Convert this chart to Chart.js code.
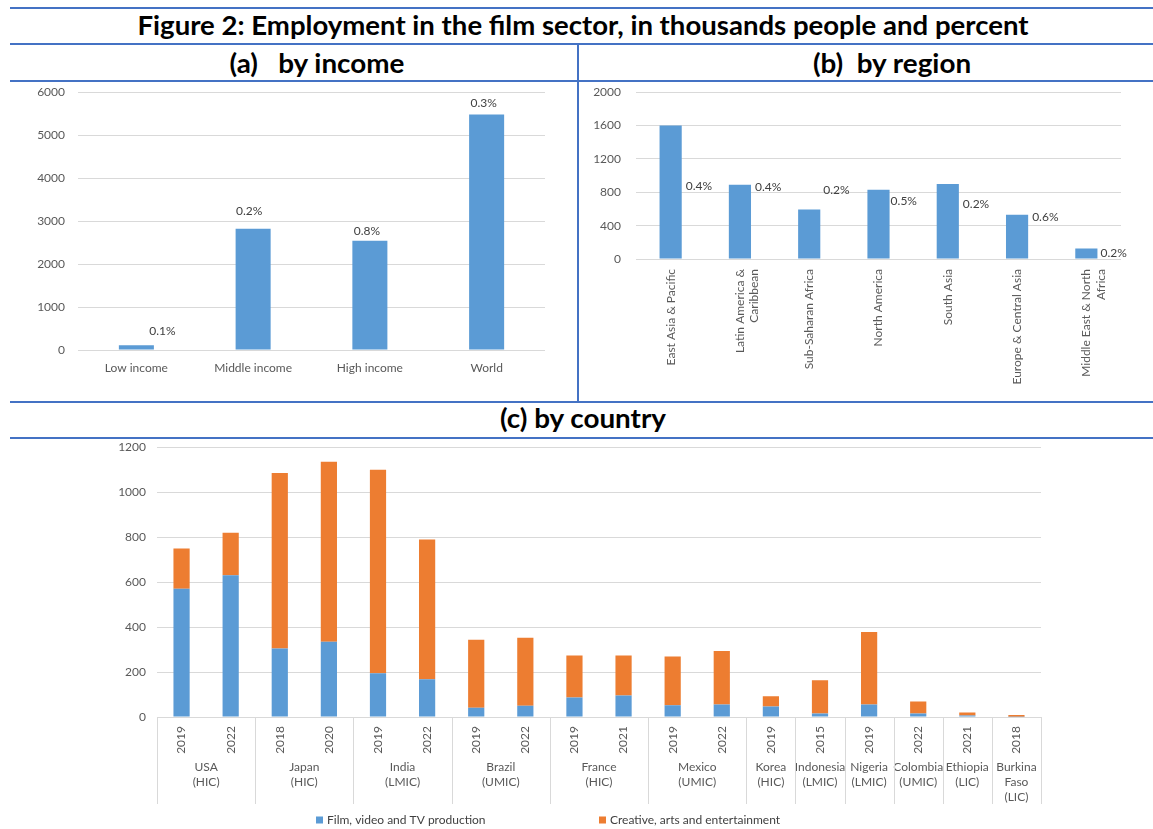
<!DOCTYPE html>
<html><head><meta charset="utf-8">
<script src="https://cdn.jsdelivr.net/npm/chart.js@4.4.1/dist/chart.umd.min.js"></script>
<style>
html,body{margin:0;padding:0;background:#fff;}
body{width:1153px;height:829px;position:relative;overflow:hidden;font-family:Lato,"Open Sans",sans-serif;}
.hl{position:absolute;height:2px;background:#4472C4;}
.vl{position:absolute;width:2px;background:#4472C4;}
.t{position:absolute;font-weight:bold;color:#000;white-space:nowrap;line-height:1;font-size:26px;transform:translateX(-50%) scaleX(1.07);}
.cv{position:absolute;}
</style></head><body>
<div class="hl" style="left:10px;top:7px;width:1143px"></div>
<div class="hl" style="left:10px;top:43px;width:1143px"></div>
<div class="hl" style="left:10px;top:80px;width:1143px"></div>
<div class="hl" style="left:10px;top:401px;width:1143px"></div>
<div class="hl" style="left:10px;top:437px;width:1143px"></div>
<div class="vl" style="left:577px;top:44px;height:358px"></div>
<div class="t" style="left:583px;top:12px;transform:translateX(-50%) scaleX(1.06)">Figure 2: Employment in the film sector, in thousands people and percent</div>
<div class="t" style="left:317px;top:50px">(a)&nbsp;&nbsp; by income</div>
<div class="t" style="left:892px;top:50px">(b)&nbsp; by region</div>
<div class="t" style="left:583px;top:405px">(c) by country</div>

<div class="cv" style="left:10px;top:72px;width:567px;height:329px"><canvas id="cA"></canvas></div>
<div class="cv" style="left:580px;top:70px;width:573px;height:331px"><canvas id="cB"></canvas></div>
<div class="cv" style="left:0px;top:429px;width:1153px;height:400px"><canvas id="cC"></canvas></div>

<script>
// ---------- Data ----------
const incomeCategories = ['Low income', 'Middle income', 'High income', 'World'];
const incomeValues = [110, 2820, 2545, 5480];
const incomeShares = ['0.1%', '0.2%', '0.8%', '0.3%'];
const incomeTicks = [0, 1000, 2000, 3000, 4000, 5000, 6000];

const regionCategories = ['East Asia & Pacific', ['Latin America &', 'Caribbean'], 'Sub-Saharan Africa',
  'North America', 'South Asia', 'Europe & Central Asia', ['Middle East & North', 'Africa']];
const regionValues = [1600, 890, 595, 830, 900, 530, 125];
const regionShares = ['0.4%', '0.4%', '0.2%', '0.5%', '0.2%', '0.6%', '0.2%'];
const regionTicks = [0, 400, 800, 1200, 1600, 2000];

const countryYears = ['2019', '2022', '2018', '2020', '2019', '2022', '2019', '2022', '2019', '2021',
  '2019', '2022', '2019', '2015', '2019', '2022', '2021', '2018'];
const countryGroups = [['USA', '(HIC)'], ['Japan', '(HIC)'], ['India', '(LMIC)'], ['Brazil', '(UMIC)'],
  ['France', '(HIC)'], ['Mexico', '(UMIC)'], ['Korea', '(HIC)'], ['Indonesia', '(LMIC)'],
  ['Nigeria', '(LMIC)'], ['Colombia', '(UMIC)'], ['Ethiopia', '(LIC)'], ['Burkina', 'Faso', '(LIC)']];
const countryGroupSizes = [2, 2, 2, 2, 2, 2, 1, 1, 1, 1, 1, 1];
const filmValues = [570, 630, 305, 335, 195, 168, 41, 50, 87, 96, 52, 56, 47, 16, 56, 16, 7, 1];
const creativeValues = [180, 190, 780, 800, 905, 622, 303, 303, 187, 178, 217, 237, 45, 148, 322, 53, 13, 8];
const countryTicks = [0, 200, 400, 600, 800, 1000, 1200];
const seriesNames = ['Film, video and TV production', 'Creative, arts and entertainment'];

// ---------- Styles ----------
const BLUE = '#5B9BD5', ORANGE = '#ED7D31', GRID = '#D9D9D9', TICK = '#595959', LABEL = '#404040';
const FONT = 'Lato, "Open Sans", sans-serif';
Chart.defaults.font.family = FONT;
Chart.defaults.font.size = 12;
Chart.defaults.color = TICK;
Chart.defaults.animation = false;
Chart.defaults.responsive = true;
Chart.defaults.maintainAspectRatio = false;

const barLabels = {
  id: 'barLabels',
  afterDatasetsDraw(chart, args, opts) {
    if (!opts.texts) return;
    const ctx = chart.ctx;
    const meta = chart.getDatasetMeta(0);
    ctx.save();
    ctx.font = '12px ' + FONT;
    ctx.fillStyle = LABEL;
    ctx.textBaseline = 'middle';
    meta.data.forEach((bar, i) => {
      const p = bar.getProps(['x', 'y', 'width'], true);
      if (opts.side === 'right') {
        ctx.textAlign = 'left';
        ctx.fillText(opts.texts[i], p.x + p.width / 2 + opts.dx[i], p.y + opts.dy[i]);
      } else {
        ctx.textAlign = 'center';
        ctx.fillText(opts.texts[i], p.x + opts.dx[i], p.y + opts.dy[i]);
      }
    });
    ctx.restore();
  }
};

const countryAxis = {
  id: 'countryAxis',
  afterDraw(chart, args, opts) {
    if (!opts.groups) return;
    const xs = chart.scales.x, ctx = chart.ctx, bottom = chart.chartArea.bottom;
    const half = (xs.getPixelForValue(1) - xs.getPixelForValue(0)) / 2;
    ctx.save();
    ctx.strokeStyle = GRID; ctx.lineWidth = 1;
    ctx.font = '12px ' + FONT; ctx.fillStyle = TICK;
    ctx.textAlign = 'center'; ctx.textBaseline = 'middle';
    let idx = 0; const edges = [];
    opts.groups.forEach((g, gi) => {
      const n = opts.sizes[gi];
      const left = xs.getPixelForValue(idx) - half;
      const right = xs.getPixelForValue(idx + n - 1) + half;
      edges.push(left);
      if (gi === opts.groups.length - 1) edges.push(right);
      g.forEach((line, li) => ctx.fillText(line, (left + right) / 2, bottom + opts.firstLine + li * opts.lineHeight));
      idx += n;
    });
    edges.forEach(e => {
      const xx = Math.round(e) + 0.5;
      ctx.beginPath(); ctx.moveTo(xx, bottom); ctx.lineTo(xx, bottom + opts.depth); ctx.stroke();
    });
    // legend
    ctx.textAlign = 'left';
    chart.data.datasets.forEach((ds, i) => {
      const x0 = opts.legendX[i], y0 = bottom + opts.legendDy;
      ctx.fillStyle = ds.backgroundColor;
      ctx.fillRect(x0, y0 - 3.5, 7, 7);
      ctx.fillStyle = LABEL;
      ctx.fillText(ds.label, x0 + 11, y0);
    });
    ctx.restore();
  }
};

function yScale(ticks, width, padding) {
  return {
    min: ticks[0], max: ticks[ticks.length - 1], stepSize: ticks[1] - ticks[0],
    afterBuildTicks(s) { s.ticks = ticks.map(v => ({ value: v })); },
    afterFit(s) { s.width = width; },
    grid: { color: GRID, drawTicks: false, lineWidth: 1 },
    border: { display: false },
    ticks: { padding: padding, color: TICK, font: { size: 12 }, callback: v => String(v) }
  };
}

// ---------- Chart A ----------
new Chart(document.getElementById('cA'), {
  type: 'bar',
  data: { labels: incomeCategories, datasets: [{ data: incomeValues, backgroundColor: BLUE, barPercentage: 0.3, categoryPercentage: 1 }] },
  options: {
    layout: { padding: { top: 0, right: 32, left: 0, bottom: 0 } },
    plugins: { legend: { display: false }, tooltip: { enabled: false },
      barLabels: { texts: incomeShares, side: 'top', dx: [26, -4, -3, -3], dy: [-14, -18, -10, -11] } },
    scales: {
      x: { grid: { display: false, drawTicks: false }, border: { display: false }, afterFit(s) { s.height = 51; },
        ticks: { padding: 11, color: TICK, font: { size: 12 } } },
      y: yScale(incomeTicks, 68, 13)
    }
  },
  plugins: [barLabels]
});

// ---------- Chart B ----------
new Chart(document.getElementById('cB'), {
  type: 'bar',
  data: { labels: regionCategories, datasets: [{ data: regionValues, backgroundColor: BLUE, barPercentage: 0.32, categoryPercentage: 1 }] },
  options: {
    layout: { padding: { top: 0, right: 32, left: 0, bottom: 0 } },
    plugins: { legend: { display: false }, tooltip: { enabled: false },
      barLabels: { texts: regionShares, side: 'right', dx: [4, 4, 3, 1, 4, 4, 3], dy: [61, 2, -19, 11, 20, 2, 5] } },
    scales: {
      x: { grid: { display: false, drawTicks: false }, border: { display: false }, afterFit(s) { s.height = 142; },
        ticks: { padding: 10, minRotation: 90, maxRotation: 90, autoSkip: false, color: TICK, font: { size: 12 } } },
      y: yScale(regionTicks, 56, 15)
    }
  },
  plugins: [barLabels]
});

// ---------- Chart C ----------
new Chart(document.getElementById('cC'), {
  type: 'bar',
  data: {
    labels: countryYears,
    datasets: [
      { label: seriesNames[0], data: filmValues, backgroundColor: BLUE, barPercentage: 0.33, categoryPercentage: 1 },
      { label: seriesNames[1], data: creativeValues, backgroundColor: ORANGE, barPercentage: 0.33, categoryPercentage: 1 }
    ]
  },
  options: {
    layout: { padding: { top: 0, right: 112, left: 0, bottom: 0 } },
    plugins: { legend: { display: false }, tooltip: { enabled: false },
      countryAxis: { groups: countryGroups, sizes: countryGroupSizes, firstLine: 50, lineHeight: 15, depth: 87,
        legendX: [316, 599], legendDy: 103 } },
    scales: {
      x: { stacked: true, grid: { display: false, drawTicks: false }, border: { display: true, color: GRID }, afterFit(s) { s.height = 112; },
        ticks: { padding: 9, minRotation: 90, maxRotation: 90, autoSkip: false, color: TICK, font: { size: 12 } } },
      y: Object.assign(yScale(countryTicks, 157, 11), { stacked: true })
    }
  },
  plugins: [countryAxis]
});
</script>
</body></html>
